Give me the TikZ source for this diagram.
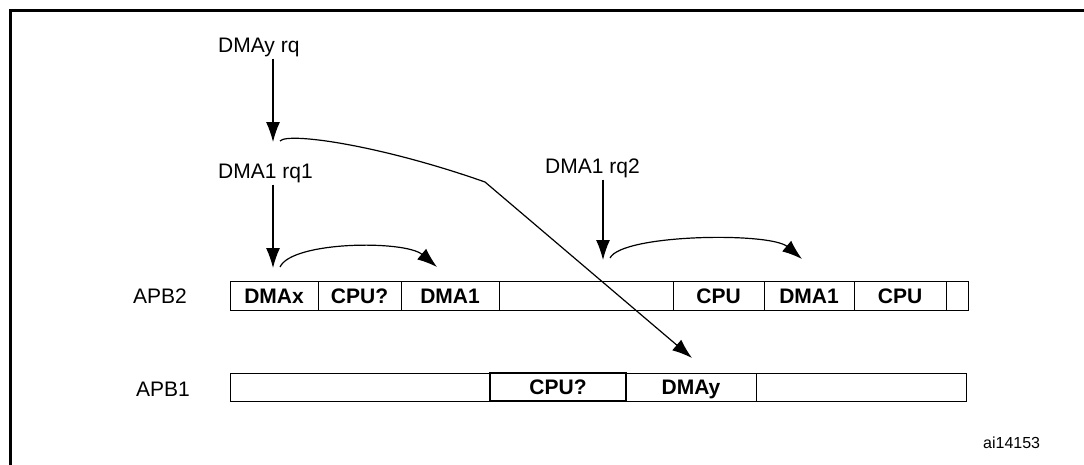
\documentclass[tikz,border=0pt]{standalone}
\usepackage{fontspec}
\setmainfont{Liberation Sans}
\usetikzlibrary{arrows.meta}

\begin{document}
\begin{tikzpicture}[x=1pt, y=-1pt,
  lbl/.style={font=\fontsize{21}{25}\selectfont, anchor=base west, inner sep=0pt},
  cell/.style={draw, line width=0.9pt, inner sep=0pt, minimum height=29pt,
    text height=15pt, text depth=0pt, font=\fontsize{21}{25}\selectfont\bfseries},
  req/.style={line width=1.2pt, -{Latex[length=20pt,width=14pt]}}
]
\useasboundingbox (0,0) rectangle (1084,464);
% frame, runs off the page on the right and at the bottom
\draw[line width=3pt] (10.5,10.5) rectangle (1110,490);

% bus names
\node[lbl] (apb2) at (133,303) {APB2};
\node[lbl] (apb1) at (136,396) {APB1};
\node[font=\fontsize{16}{19}\selectfont, anchor=base west, inner sep=0pt] (fig) at (983,448) {ai14153};

% APB2 slots
\foreach \l/\r/\t [count=\i] in {230/318/DMAx, 318/401/CPU?, 401/499/DMA1, 499/673/,
    673/764/CPU, 764/854/DMA1, 854/946/CPU, 946/968/} {
  \node[cell, minimum width={(\r-\l)*1pt}] (b\i) at ({(\l+\r)/2}, 295.5) {\t};
}

% APB1 slots
\node[cell, minimum height=28pt, minimum width=260pt] (a1) at (360,387) {};
\node[cell, minimum height=28pt, minimum width=136pt, line width=1.2pt] (a2) at (558,387) {CPU?};
\node[cell, minimum height=28pt, minimum width=130pt] (a3) at (691,387) {DMAy};
\node[cell, minimum height=28pt, minimum width=210pt] (a4) at (861,387) {};

% requests
\node[lbl] (yrq) at (218,52) {DMAy rq};
\node[lbl] (rq1) at (218,178) {DMA1 rq1};
\node[lbl] (rq2) at (545,173) {DMA1 rq2};

\coordinate (ty) at (273,142);
\coordinate (t1) at (273,268);
\coordinate (t2) at (603,260);
\coordinate (sy) at (280,141);
\coordinate (s1) at (280,267);
\coordinate (s2) at (610,258);
\coordinate (bend) at (485,182);
\coordinate (hy) at (692,358);
\coordinate (h1) at (437,267);
\coordinate (h2) at (802,259);

\draw[req, shorten <=2pt] (ty |- yrq.south) -- (ty);
\draw[req, shorten <=2pt] (t1 |- rq1.south) -- (t1);
\draw[req, shorten <=2pt] (t2 |- rq2.south) -- (t2);

% hand-over to the next slot
\draw[req] (s1) .. controls (292,241) and (405,240) .. (h1);
\draw[req] (s2) .. controls (622,234) and (770,232) .. (h2);
% DMAy goes over to APB1
\draw[req] (sy) .. controls (288,132) and (380,145) .. (bend) -- (hy);
\end{tikzpicture}
\end{document}
